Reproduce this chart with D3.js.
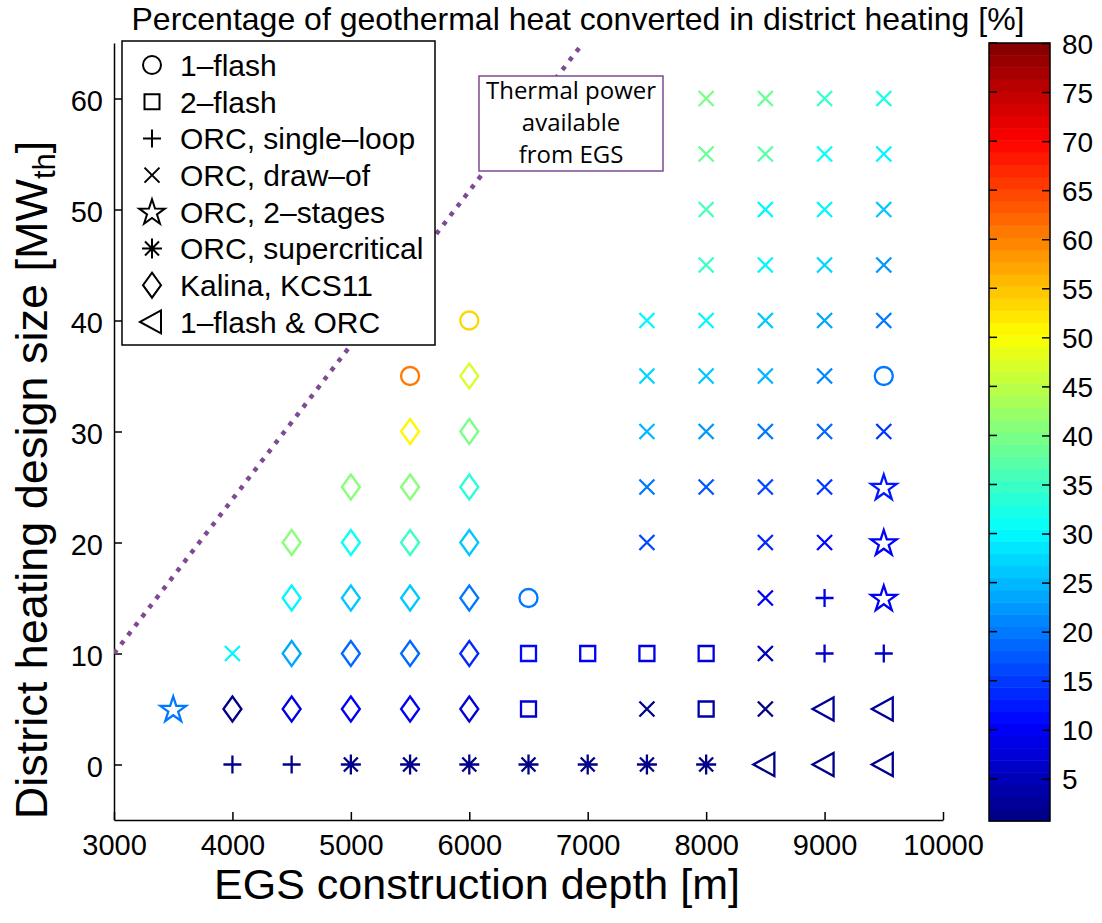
<!DOCTYPE html>
<html lang="en">
<head>
<meta charset="UTF-8" />
<title>Geothermal heat converted in district heating</title>
<script src="https://d3js.org/d3.v7.min.js"></script>
<style>
  body { margin: 0; background: #fff; }
  svg { display: block; font-family: "Liberation Sans", Arial, Helvetica, sans-serif; }
  .axis path, .axis line { stroke: #000; stroke-width: 1.5; }
  .axis text { font-size: 29px; fill: #000; font-family: "Liberation Sans", Arial, sans-serif; }
</style>
</head>
<body>
<svg width="1102" height="923"></svg>
<script>
// legend entries (order as in the figure)
const cycleNames = ["1\u2013flash", "2\u2013flash", "ORC, single\u2013loop", "ORC, draw\u2013of",
  "ORC, 2\u2013stages", "ORC, supercritical", "Kalina, KCS11", "1\u2013flash & ORC"];
const cycleMarkers = ["circle", "square", "plus", "x", "star", "asterisk", "diamond", "triangle"];

// points per cycle: [depth m, design size MWth, % heat converted]
const flash1 = [[5500, 35, 60.2], [6000, 40, 53.3], [6500, 15, 20.5], [9500, 35, 20.5]];
const flash2 = [[6500, 5, 7.6], [6500, 10, 11.6], [7000, 10, 9.6], [7500, 10, 8.6],
  [8000, 5, 3.7], [8000, 10, 7.6]];
const orcSingle = [[4000, 0, 1.5], [4500, 0, 1.5], [9000, 10, 6.6], [9000, 15, 8.6], [9500, 10, 5.7]];
const orcDraw = [[4000, 10, 30.2],
  [7500, 5, 1.7], [7500, 20, 16.5], [7500, 25, 19.5], [7500, 30, 24.5], [7500, 35, 27.4], [7500, 40, 30.2],
  [8000, 25, 17.5], [8000, 30, 22.5], [8000, 35, 25.5], [8000, 40, 29.4], [8000, 45, 34.4],
  [8000, 50, 35.4], [8000, 55, 38.3], [8000, 60, 39.3],
  [8500, 5, 1.7], [8500, 10, 4.7], [8500, 15, 10.6], [8500, 20, 13.6], [8500, 25, 16.5], [8500, 30, 19.5],
  [8500, 35, 24.5], [8500, 40, 26.4], [8500, 45, 29.4], [8500, 50, 30.4], [8500, 55, 37.3], [8500, 60, 38.5],
  [9000, 20, 11.6], [9000, 25, 15.5], [9000, 30, 18.5], [9000, 35, 21.5], [9000, 40, 23.5],
  [9000, 45, 27.4], [9000, 50, 29.5], [9000, 55, 31.4], [9000, 60, 34.4],
  [9500, 30, 15.5], [9500, 40, 20.5], [9500, 45, 22.5], [9500, 50, 26.4], [9500, 55, 29.4], [9500, 60, 32.4]];
const orcTwoStage = [[3500, 5, 19.5], [9500, 15, 9.6], [9500, 20, 10.6], [9500, 25, 12.6]];
const orcSuper = [[5000, 0, 0.9], [5500, 0, 0.9], [6000, 0, 0.9], [6500, 0, 0.9],
  [7000, 0, 0.9], [7500, 0, 0.9], [8000, 0, 0.9]];
const kalina = [[4000, 5, 0.9], [4500, 5, 8.6], [4500, 10, 23.5], [4500, 15, 29.5], [4500, 20, 41.5],
  [5000, 5, 9.6], [5000, 10, 18.5], [5000, 15, 26.5], [5000, 20, 31.2], [5000, 25, 41.5],
  [5500, 5, 9.6], [5500, 10, 18.5], [5500, 15, 26.5], [5500, 20, 34.4], [5500, 25, 41.3], [5500, 30, 51.3],
  [6000, 5, 7.6], [6000, 10, 13.6], [6000, 15, 20.5], [6000, 20, 25.5], [6000, 25, 33.4],
  [6000, 30, 40.3], [6000, 35, 47.2]];
const flashOrc = [[8500, 0, 1.0], [9000, 0, 1.0], [9500, 0, 1.0], [9000, 5, 2.7], [9500, 5, 2.7]];
const cycleData = [flash1, flash2, orcSingle, orcDraw, orcTwoStage, orcSuper, kalina, flashOrc];

// "thermal power available from EGS" line
const egsDepth = [3000, 6960];
const egsPower = [10, 65];

const xTicks = [3000, 4000, 5000, 6000, 7000, 8000, 9000, 10000];
const yTicks = [0, 10, 20, 30, 40, 50, 60];
const cTicks = [5, 10, 15, 20, 25, 30, 35, 40, 45, 50, 55, 60, 65, 70, 75, 80];
const cRange = [0.7, 80];

const svg = d3.select("svg");

const x = d3.scaleLinear().domain([3000, 10000]).range([114, 943]);
const y = d3.scaleLinear().domain([-5, 65]).range([820, 43]);

// jet colormap, 64 levels like matlab
const jetStops = [0, 0.125, 0.375, 0.625, 0.875, 1].map(t => cRange[0] + t * (cRange[1] - cRange[0]));
const jet = d3.scaleLinear().domain(jetStops)
  .range(["#000080", "#0000ff", "#00ffff", "#ffff00", "#ff0000", "#800000"]);
const nLev = 64;
const levels = d3.range(nLev).map(i => cRange[0] + (i + 0.5) * (cRange[1] - cRange[0]) / nLev);
const color = d3.scaleQuantize().domain(cRange).range(levels.map(v => jet(v)));

// marker shapes, centered on 0,0
function markerPath(kind) {
  const p = d3.path();
  if (kind === "circle") { p.moveTo(9, 0); p.arc(0, 0, 9, 0, 2 * Math.PI); }
  else if (kind === "square") { p.rect(-7.5, -7.5, 15, 15); }
  else if (kind === "diamond") { p.moveTo(0, -12.5); p.lineTo(9, 0); p.lineTo(0, 12.5); p.lineTo(-9, 0); p.closePath(); }
  else if (kind === "plus") { p.moveTo(-9, 0); p.lineTo(9, 0); p.moveTo(0, -9); p.lineTo(0, 9); }
  else if (kind === "x") { p.moveTo(-7.5, -7.5); p.lineTo(7.5, 7.5); p.moveTo(-7.5, 7.5); p.lineTo(7.5, -7.5); }
  else if (kind === "asterisk") {
    p.moveTo(-10, 0); p.lineTo(10, 0); p.moveTo(0, -10); p.lineTo(0, 10);
    p.moveTo(-7, -7); p.lineTo(7, 7); p.moveTo(-7, 7); p.lineTo(7, -7);
  }
  else if (kind === "star") {
    for (let i = 0; i < 10; i++) {
      const r = i % 2 ? 5.2 : 13.5, a = -Math.PI / 2 + i * Math.PI / 5;
      if (i === 0) p.moveTo(r * Math.cos(a), r * Math.sin(a) + 1);
      else p.lineTo(r * Math.cos(a), r * Math.sin(a) + 1);
    }
    p.closePath();
  }
  else if (kind === "triangle") { p.moveTo(-12, 0); p.lineTo(9, -11.5); p.lineTo(9, 11.5); p.closePath(); }
  return p.toString();
}

// axes
svg.append("g").attr("class", "axis")
  .attr("transform", "translate(0,820)")
  .call(d3.axisBottom(x).tickValues(xTicks).tickFormat(d3.format("d"))
    .tickSizeInner(-8).tickSizeOuter(0).tickPadding(14));
svg.append("g").attr("class", "axis")
  .attr("transform", "translate(114,0)")
  .call(d3.axisLeft(y).tickValues(yTicks).tickSizeInner(-8).tickSizeOuter(0).tickPadding(11))
  .selectAll("text").attr("dy", "0.42em");

// dotted line
svg.append("defs").append("clipPath").attr("id", "plotclip")
  .append("rect").attr("x", 114).attr("y", 43).attr("width", 829).attr("height", 777);
svg.append("path")
  .datum(d3.zip(egsDepth, egsPower))
  .attr("clip-path", "url(#plotclip)")
  .attr("d", d3.line().x(d => x(d[0])).y(d => y(d[1])))
  .attr("fill", "none").attr("stroke", "#7e4a92").attr("stroke-width", 4.5)
  .attr("stroke-dasharray", "4.5,7");

// markers
cycleData.forEach((pts, k) => {
  svg.append("g").selectAll("path")
    .data(pts).join("path")
    .attr("transform", d => `translate(${x(d[0])},${y(d[1])})`)
    .attr("d", markerPath(cycleMarkers[k]))
    .attr("fill", "none")
    .attr("stroke", d => color(d[2]))
    .attr("stroke-width", 2.3);
});

// annotation box
const note = svg.append("g");
note.append("rect").attr("x", 479).attr("y", 76).attr("width", 184).attr("height", 95)
  .attr("fill", "#fff").attr("stroke", "#7e4a92").attr("stroke-width", 1.5);
note.selectAll("text").data(["Thermal power", "available", "from EGS"]).join("text")
  .attr("x", 571).attr("y", (d, i) => 99 + i * 32)
  .attr("text-anchor", "middle")
  .style("font-family", "'Open Sans', sans-serif").style("font-size", "24px")
  .text(d => d);

// legend
const leg = svg.append("g");
leg.append("rect").attr("x", 122).attr("y", 41).attr("width", 313).attr("height", 304)
  .attr("fill", "#fff").attr("stroke", "#000").attr("stroke-width", 1.5);
cycleNames.forEach((name, i) => {
  const cy = 65 + i * 36.7;
  leg.append("path").attr("transform", `translate(152,${cy})`)
    .attr("d", markerPath(cycleMarkers[i]))
    .attr("fill", "none").attr("stroke", "#000").attr("stroke-width", 2);
  leg.append("text").attr("x", 180).attr("y", cy).attr("dy", "0.36em")
    .style("font-size", "30px").text(name);
});

// colorbar
const cy = d3.scaleLinear().domain(cRange).range([821, 43]);
const bandH = (cRange[1] - cRange[0]) / nLev;
svg.append("g").selectAll("rect").data(levels).join("rect")
  .attr("x", 989).attr("width", 61)
  .attr("y", d => cy(d + bandH / 2))
  .attr("height", d => cy(d - bandH / 2) - cy(d + bandH / 2) + 0.5)
  .attr("fill", d => color(d));
svg.append("g").attr("class", "axis")
  .attr("transform", "translate(1050,0)")
  .call(d3.axisRight(cy).tickValues(cTicks).tickSizeInner(-8).tickSizeOuter(0).tickPadding(12))
  .call(g => g.select(".domain").remove())
  .selectAll("text").style("font-size", "28px").attr("dy", "0.36em");
svg.append("g").selectAll("line").data(cTicks).join("line")
  .attr("x1", 989).attr("x2", 997)
  .attr("y1", d => cy(d)).attr("y2", d => cy(d))
  .attr("stroke", "#000").attr("stroke-width", 1.5);
svg.append("rect").attr("x", 989).attr("y", 43).attr("width", 61).attr("height", 778)
  .attr("fill", "none").attr("stroke", "#000").attr("stroke-width", 1.5);

// titles
svg.append("text").attr("x", 578).attr("y", 30).attr("text-anchor", "middle")
  .style("font-size", "32px")
  .text("Percentage of geothermal heat converted in district heating [%]");
svg.append("text").attr("x", 477).attr("y", 899).attr("text-anchor", "middle")
  .style("font-size", "43px").text("EGS construction depth [m]");
const yl = svg.append("text").attr("transform", "translate(47,480) rotate(-90)")
  .attr("text-anchor", "middle").style("font-size", "45px");
yl.append("tspan").text("District heating design size [MW");
yl.append("tspan").attr("dy", 8).style("font-size", "31px").text("th");
yl.append("tspan").attr("dy", -8).text("]");
</script>
</body>
</html>
